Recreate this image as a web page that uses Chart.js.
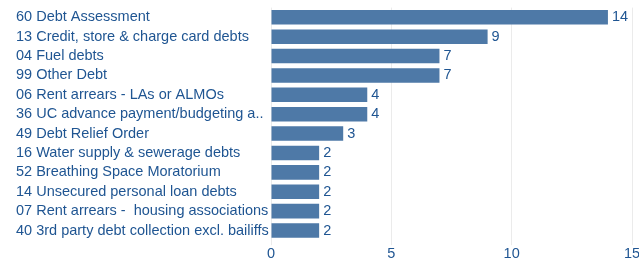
<!DOCTYPE html>
<html>
<head>
<meta charset="utf-8">
<script src="https://cdn.jsdelivr.net/npm/chart.js@4"></script>
<style>
  html, body { margin: 0; padding: 0; background: #ffffff; }
  #wrap { width: 639px; height: 262px; }
</style>
</head>
<body>
<div id="wrap"><canvas id="chart"></canvas></div>
<script>
var categories = [
  '60 Debt Assessment',
  '13 Credit, store & charge card debts',
  '04 Fuel debts',
  '99 Other Debt',
  '06 Rent arrears - LAs or ALMOs',
  '36 UC advance payment/budgeting a..',
  '49 Debt Relief Order',
  '16 Water supply & sewerage debts',
  '52 Breathing Space Moratorium',
  '14 Unsecured personal loan debts',
  '07 Rent arrears -  housing associations',
  '40 3rd party debt collection excl. bailiffs'
];
var counts = [14, 9, 7, 7, 4, 4, 3, 2, 2, 2, 2, 2];
var xTicks = [0, 5, 10, 15];

var textColor = '#1f5592';
var barColor = '#4e79a7';
var fontFamily = '"Liberation Sans", Arial, sans-serif';

// write the count just past the end of each bar
var valueLabels = {
  id: 'valueLabels',
  afterDatasetsDraw: function(chart) {
    var ctx = chart.ctx;
    var meta = chart.getDatasetMeta(0);
    ctx.save();
    ctx.font = '14.5px ' + fontFamily;
    ctx.fillStyle = textColor;
    ctx.textAlign = 'left';
    ctx.textBaseline = 'middle';
    meta.data.forEach(function(bar, i) {
      ctx.fillText(String(counts[i]), bar.x + 4, bar.y);
    });
    ctx.restore();
  }
};

new Chart(document.getElementById('chart'), {
  type: 'bar',
  data: {
    labels: categories,
    datasets: [{
      data: counts,
      backgroundColor: barColor,
      borderWidth: 0,
      barPercentage: 0.75,
      categoryPercentage: 1
    }]
  },
  options: {
    indexAxis: 'y',
    responsive: true,
    maintainAspectRatio: false,
    animation: false,
    layout: { padding: { left: 16, right: 7, top: 7.6, bottom: 0 } },
    plugins: {
      legend: { display: false },
      tooltip: { enabled: false }
    },
    scales: {
      x: {
        min: 0,
        max: 15,
        afterBuildTicks: function(axis) {
          axis.ticks = xTicks.map(function(v) { return { value: v }; });
        },
        // let the "15" run off the right edge, as in the original
        afterFit: function(axis) {
          axis.paddingRight = 0;
          axis.height = 21.8;
        },
        grid: { color: '#ebebeb', drawTicks: true, tickLength: 5 },
        border: { display: false },
        ticks: {
          color: textColor,
          font: { family: fontFamily, size: 14.5, lineHeight: 1 },
          padding: 2
        }
      },
      y: {
        afterFit: function(axis) {
          axis.width = 255;
          axis.paddingTop = 0;
          axis.paddingBottom = 0;
        },
        grid: { display: false, drawTicks: false },
        border: { display: false },
        ticks: {
          color: textColor,
          crossAlign: 'far',
          autoSkip: false,
          padding: 0,
          font: { family: fontFamily, size: 14.5 }
        }
      }
    }
  },
  plugins: [valueLabels]
});
</script>
</body>
</html>
